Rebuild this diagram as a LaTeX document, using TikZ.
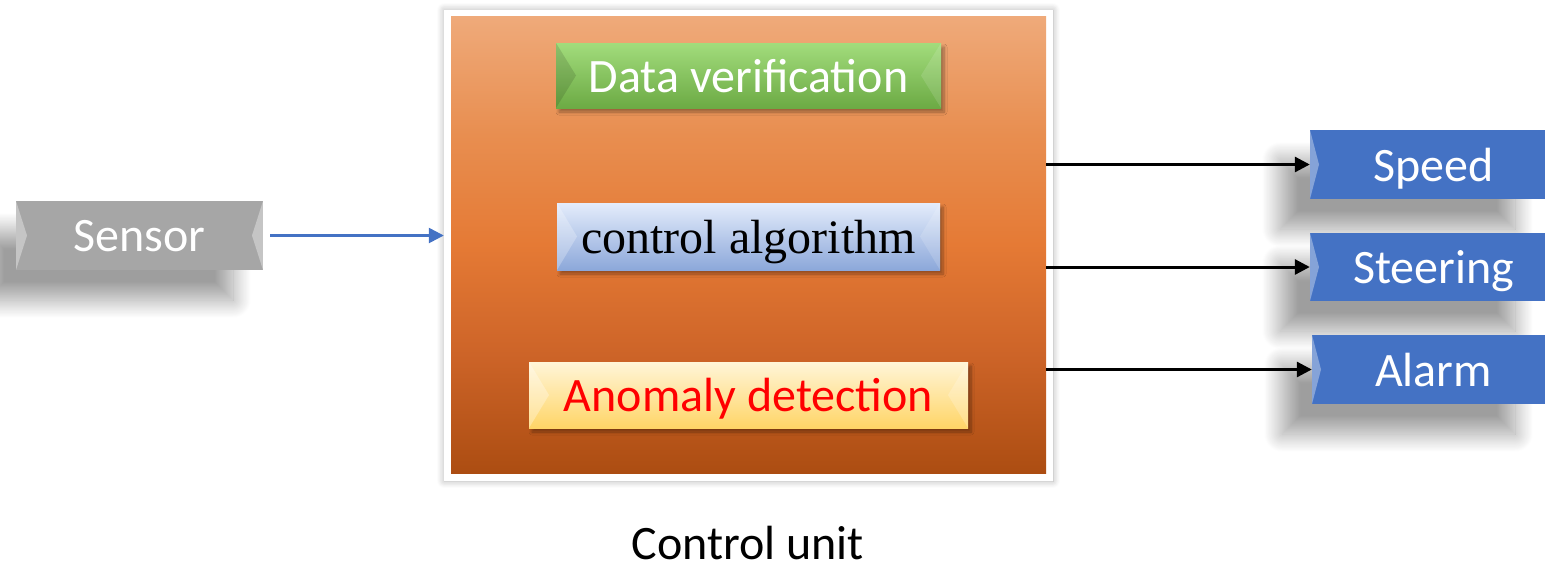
\documentclass[tikz,border=0pt]{standalone}
\usepackage{fontspec}
\setmainfont{Carlito}
\newfontfamily\timesfont{Liberation Serif}
\usetikzlibrary{arrows.meta,shadows.blur}

\definecolor{sensorgray}{HTML}{A6A6A6}
\definecolor{outblue}{HTML}{4472C4}
\definecolor{veriftop}{HTML}{A2DC7C}
\definecolor{verifbot}{HTML}{6CAA44}
\definecolor{algotop}{HTML}{E4ECFB}
\definecolor{algobot}{HTML}{8CA8DA}
\definecolor{anomtop}{HTML}{FFF5D8}
\definecolor{anombot}{HTML}{FFD567}
\pgfdeclareverticalshading{unitshade}{100bp}{
  color(0bp)=(rgb,255:red,172;green,77;blue,18);
  color(25bp)=(rgb,255:red,172;green,77;blue,18);
  color(38bp)=(rgb,255:red,205;green,100;blue,40);
  color(50bp)=(rgb,255:red,229;green,122;blue,53);
  color(62bp)=(rgb,255:red,232;green,142;blue,80);
  color(75bp)=(rgb,255:red,239;green,170;blue,122);
  color(100bp)=(rgb,255:red,239;green,170;blue,122)}

\tikzset{
  boxfont/.style={font=\fontsize{48}{54}\selectfont, text depth=0pt},
  bevel/.style n args={3}{path picture={
    \fill[#2] (path picture bounding box.south west) -- (path picture bounding box.north west)
      -- ([xshift=#1]path picture bounding box.west) -- cycle;
    \fill[#3] (path picture bounding box.south east) -- (path picture bounding box.north east)
      -- ([xshift=-#1]path picture bounding box.east) -- cycle;
  }},
  softshadow/.style={blur shadow={shadow xshift=-30pt, shadow yshift=-30pt,
    shadow blur radius=18pt, shadow blur steps=25, shadow opacity=38}},
  outbox/.style={fill=outblue, text=white, minimum width=235pt, minimum height=69pt,
    softshadow, bevel={9pt}{white,opacity=.35}{white,opacity=0}},
  outarrow/.style={draw=black, line width=3pt, -{Triangle[length=15pt,width=15pt]}},
}

\begin{document}
\begin{tikzpicture}[x=1pt,y=-1pt]
  \useasboundingbox (0,0) rectangle (1545,566);
  % control unit
  \node[fill=white, minimum width=609pt, minimum height=471pt,
    blur shadow={shadow xshift=0pt, shadow yshift=0pt, shadow blur radius=7pt,
      shadow blur steps=12, shadow opacity=30}]
    (frame) at (748.5,245.5) {};
  \node[minimum width=595pt, minimum height=457pt, shading=unitshade] (unit) at (748.5,244.5) {};
  \begin{scope}[every node/.style={boxfont, inner sep=0pt,
      blur shadow={shadow xshift=3pt, shadow yshift=-4pt, shadow blur radius=3pt,
        shadow blur steps=8, shadow opacity=35}}]
    \node[top color=veriftop, bottom color=verifbot, text=white,
      minimum width=385pt, minimum height=65pt,
      bevel={20pt}{black,opacity=.12}{white,opacity=.12}] (verif) at (748.5,75.5) {Data verification};
    \node[top color=algotop, bottom color=algobot, text=black,
      minimum width=383pt, minimum height=67pt, font=\fontsize{48}{54}\timesfont,
      bevel={20pt}{white,opacity=.25}{white,opacity=.15}] (algo) at (748.5,236.5) {control algorithm};
    \node[top color=anomtop, bottom color=anombot, text=red,
      minimum width=439pt, minimum height=66pt,
      bevel={20pt}{white,opacity=.3}{white,opacity=.2}] (anom) at (748.5,395) {Anomaly detection};
  \end{scope}
  \node[boxfont, inner sep=0pt] (label) at (748,543) {Control unit};

  % sensor and outputs
  \begin{scope}[every node/.style={boxfont, inner sep=0pt}]
    \node[fill=sensorgray, text=white, minimum width=247pt, minimum height=69pt, softshadow,
      bevel={11pt}{white,opacity=.35}{white,opacity=.35}] (sensor) at (139.5,235.5) {Sensor};
    \node[outbox] (speed) at (1427.5,164.5) {\hspace{12pt}Speed};
    \node[outbox, minimum height=68pt] (steer) at (1427.5,267) {\hspace{12pt}Steering};
    \node[outbox, minimum width=233pt] (alarm) at (1428.5,369.5) {\hspace{10pt}Alarm};
  \end{scope}

  \draw[outblue, line width=2.5pt, -{Triangle[length=15pt,width=15pt]}, shorten <=7pt]
    (sensor.east) -- (sensor.east -| frame.west);
  \draw[outarrow] (unit.east |- speed.west) -- (speed.west);
  \draw[outarrow] (unit.east |- steer.west) -- (steer.west);
  \draw[outarrow] (unit.east |- alarm.west) -- (alarm.west);
\end{tikzpicture}
\end{document}
